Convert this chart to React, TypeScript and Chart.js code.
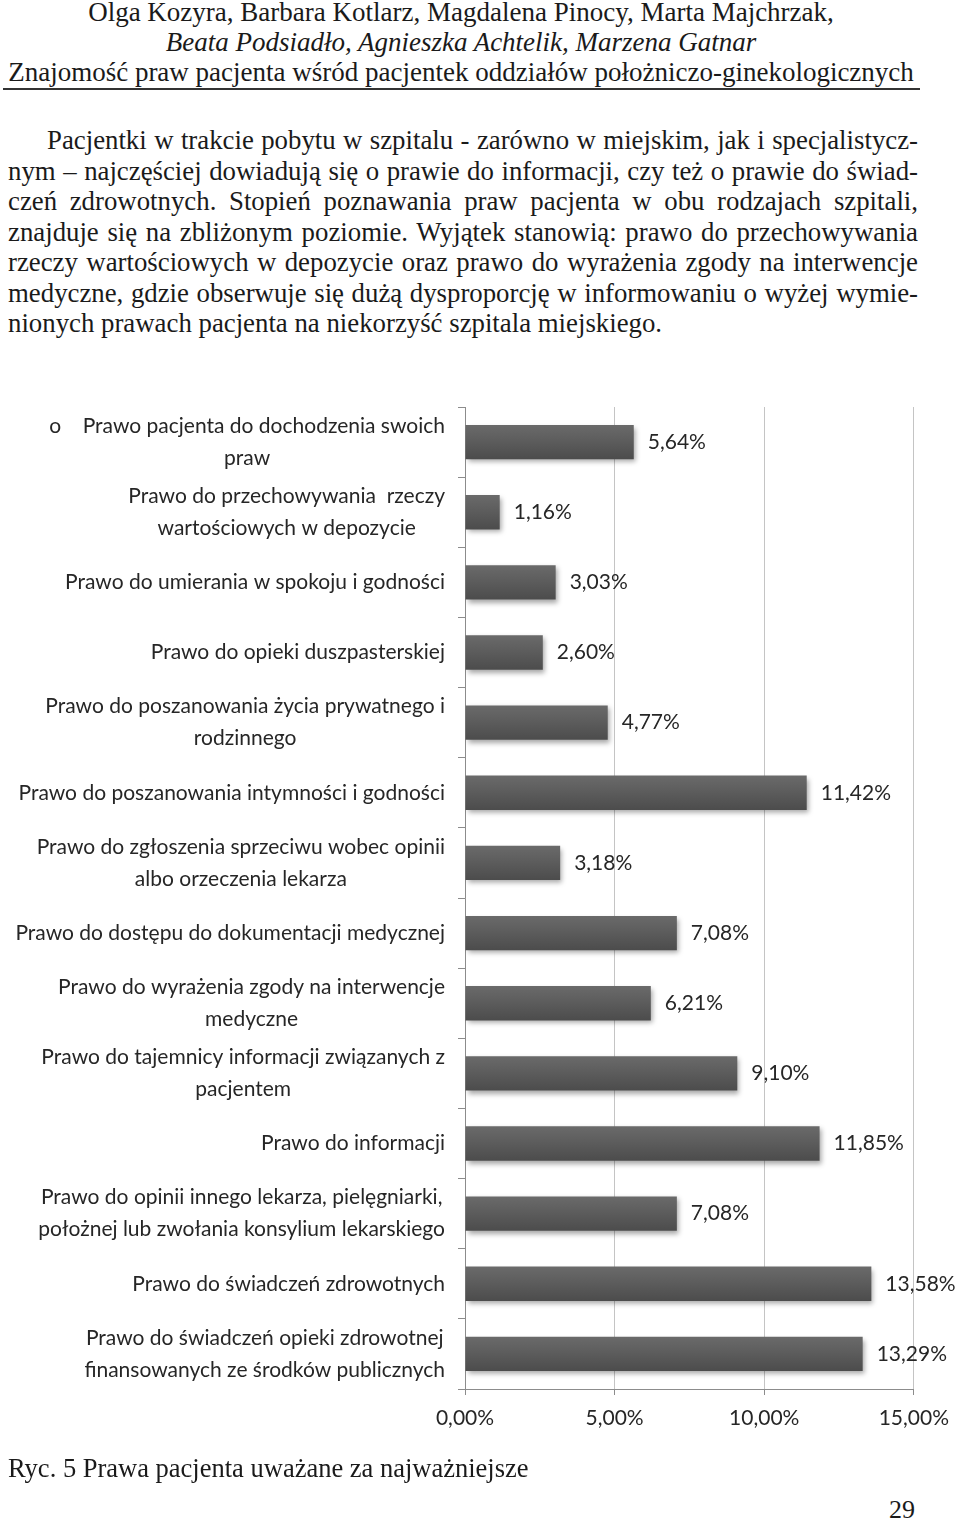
import {useEffect, useRef} from 'react'
import {Chart, registerables} from 'chart.js'
import type {Plugin} from 'chart.js'

Chart.register(...registerables)

const categoryLabels: string[][] = [
    ['o    Prawo pacjenta do dochodzenia swoich', 'praw'],
    ['Prawo do przechowywania  rzeczy', 'wartościowych w depozycie'],
    ['Prawo do umierania w spokoju i godności'],
    ['Prawo do opieki duszpasterskiej'],
    ['Prawo do poszanowania życia prywatnego i', 'rodzinnego'],
    ['Prawo do poszanowania intymności i godności'],
    ['Prawo do zgłoszenia sprzeciwu wobec opinii', 'albo orzeczenia lekarza'],
    ['Prawo do dostępu do dokumentacji medycznej'],
    ['Prawo do wyrażenia zgody na interwencje', 'medyczne'],
    ['Prawo do tajemnicy informacji związanych z', 'pacjentem'],
    ['Prawo do informacji'],
    ['Prawo do opinii innego lekarza, pielęgniarki,', 'położnej lub zwołania konsylium lekarskiego'],
    ['Prawo do świadczeń zdrowotnych'],
    ['Prawo do świadczeń opieki zdrowotnej', 'finansowanych ze środków publicznych'],
]

const percentValues = [5.64, 1.16, 3.03, 2.6, 4.77, 11.42, 3.18, 7.08, 6.21, 9.1, 11.85, 7.08, 13.58, 13.29]

const xTickValues = [0, 5, 10, 15]

const headerLines = [
    'Olga Kozyra, Barbara Kotlarz, Magdalena Pinocy, Marta Majchrzak,',
    'Beata Podsiadło, Agnieszka Achtelik, Marzena Gatnar',
    'Znajomość praw pacjenta wśród pacjentek oddziałów położniczo-ginekologicznych',
]

const paragraphLines = [
    'Pacjentki w trakcie pobytu w szpitalu - zarówno w miejskim, jak i specjalistycz-',
    'nym – najczęściej dowiadują się o prawie do informacji, czy też o prawie do świad-',
    'czeń zdrowotnych. Stopień poznawania praw pacjenta w obu rodzajach szpitali,',
    'znajduje się na zbliżonym poziomie. Wyjątek stanowią: prawo do przechowywania',
    'rzeczy wartościowych w depozycie oraz prawo do wyrażenia zgody na interwencje',
    'medyczne, gdzie obserwuje się dużą dysproporcję w informowaniu o wyżej wymie-',
    'nionych prawach pacjenta na niekorzyść szpitala miejskiego.',
]

const caption = 'Ryc. 5 Prawa pacjenta uważane za najważniejsze'
const pageNumber = '29'

const sansFamily = 'Lato, "Open Sans", sans-serif'
const labelFont = `21px ${sansFamily}`
const textColor = '#262626'

const formatPercent = (v: number) => `${v.toFixed(2).replace('.', ',')}%`

// Excel-style labels: block right-aligned to the axis, lines centred within the block
const categoryLabelPlugin: Plugin<'bar'> = {
    id: 'categoryLabels',
    afterDraw(chart) {
        const {ctx, chartArea} = chart
        const yScale = chart.scales.y
        ctx.save()
        ctx.font = labelFont
        ctx.fillStyle = textColor
        ctx.textAlign = 'center'
        ctx.textBaseline = 'middle'
        const right = chartArea.left - 20
        categoryLabels.forEach((lines, i) => {
            const y = yScale.getPixelForValue(i)
            const blockWidth = Math.max(...lines.map((l) => ctx.measureText(l).width))
            const cx = right - blockWidth / 2
            lines.forEach((line, j) => {
                ctx.fillText(line, cx, y + (j - (lines.length - 1) / 2) * 32)
            })
        })
        ctx.restore()
    },
}

const valueLabelPlugin: Plugin<'bar'> = {
    id: 'valueLabels',
    afterDatasetsDraw(chart) {
        const {ctx} = chart
        const meta = chart.getDatasetMeta(0)
        ctx.save()
        ctx.shadowColor = 'transparent'
        ctx.font = labelFont
        ctx.fillStyle = textColor
        ctx.textAlign = 'left'
        ctx.textBaseline = 'middle'
        meta.data.forEach((bar, i) => {
            const {x, y} = bar.getProps(['x', 'y'], true)
            ctx.fillText(formatPercent(percentValues[i]), x + 14, y)
        })
        ctx.restore()
    },
}

// shadow under the bars, like the Excel original
const barShadowPlugin: Plugin<'bar'> = {
    id: 'barShadow',
    beforeDatasetsDraw(chart) {
        const {ctx} = chart
        ctx.save()
        ctx.shadowColor = 'rgba(0,0,0,0.35)'
        ctx.shadowBlur = 5
        ctx.shadowOffsetX = 2
        ctx.shadowOffsetY = 3
    },
    afterDatasetsDraw(chart) {
        chart.ctx.restore()
    },
}

function RightsChart() {
    const canvasRef = useRef<HTMLCanvasElement>(null)
    const chartRef = useRef<Chart<'bar'> | null>(null)

    useEffect(() => {
        if (!canvasRef.current) return
        chartRef.current?.destroy()
        const ctx = canvasRef.current.getContext('2d')
        if (!ctx) return

        chartRef.current = new Chart(ctx, {
            type: 'bar',
            data: {
                labels: categoryLabels.map((l) => l.join(' ')),
                datasets: [
                    {
                        data: percentValues,
                        backgroundColor: (context) => {
                            const chart = context.chart
                            const yScale = chart.scales.y
                            if (!yScale) return '#5a5a5a'
                            const y = yScale.getPixelForValue(context.dataIndex)
                            if (!Number.isFinite(y)) return '#5a5a5a'
                            const g = chart.ctx.createLinearGradient(0, y - 17, 0, y + 17)
                            g.addColorStop(0, '#6a6a6a')
                            g.addColorStop(0.45, '#5d5d5d')
                            g.addColorStop(1, '#4c4c4c')
                            return g
                        },
                        borderWidth: 0,
                        categoryPercentage: 1,
                        barPercentage: 0.49,
                    },
                ],
            },
            options: {
                indexAxis: 'y',
                responsive: true,
                maintainAspectRatio: false,
                animation: false,
                layout: {padding: {top: 12, right: 40, left: 0, bottom: 0}},
                plugins: {
                    legend: {display: false},
                    tooltip: {enabled: false},
                },
                scales: {
                    x: {
                        min: 0,
                        max: 15,
                        afterBuildTicks: (scale) => {
                            scale.ticks = xTickValues.map((value) => ({value}))
                        },
                        afterFit: (scale) => {
                            scale.height = 66
                        },
                        grid: {color: '#c4c4c4', lineWidth: 1, tickLength: 6, tickColor: '#8c8c8c'},
                        border: {display: true, color: '#8c8c8c', width: 1},
                        ticks: {
                            color: textColor,
                            font: {family: sansFamily, size: 21},
                            padding: 11,
                            maxRotation: 0,
                            callback: (value) => formatPercent(Number(value)),
                        },
                    },
                    y: {
                        afterFit: (scale) => {
                            scale.width = 465
                        },
                        grid: {
                            display: true,
                            drawOnChartArea: false,
                            offset: true,
                            tickLength: 7,
                            tickColor: '#8c8c8c',
                        },
                        border: {display: true, color: '#8c8c8c', width: 1},
                        ticks: {display: false},
                    },
                },
            },
            plugins: [barShadowPlugin, valueLabelPlugin, categoryLabelPlugin],
        })

        return () => {
            chartRef.current?.destroy()
            chartRef.current = null
        }
    }, [])

    return (
        <div style={{position: 'absolute', left: 0, top: 395, width: 960, height: 1060}}>
            <canvas ref={canvasRef}/>
        </div>
    )
}

const serif = '"Liberation Serif", serif'

export default function App() {
    return (
        <div
            style={{
                position: 'absolute',
                left: 0,
                top: 0,
                width: 960,
                height: 1525,
                background: '#ffffff',
                fontFamily: serif,
                color: '#1a1a1a',
                overflow: 'hidden',
            }}
        >
            {headerLines.map((line, i) => (
                <div
                    key={line}
                    style={{
                        position: 'absolute',
                        left: 0,
                        width: 922,
                        top: -3 + i * 30,
                        height: 30,
                        lineHeight: '30px',
                        fontSize: 27,
                        fontFamily: serif,
                        textAlign: 'center',
                        fontStyle: i === 1 ? 'italic' : 'normal',
                        whiteSpace: 'nowrap',
                    }}
                >
                    {line}
                </div>
            ))}
            <div style={{position: 'absolute', left: 3, top: 88, width: 917, height: 2, background: '#333'}}/>
            {paragraphLines.map((line, i) => (
                <div
                    key={line}
                    style={{
                        position: 'absolute',
                        left: i === 0 ? 47 : 8,
                        width: i === 0 ? 871 : 910,
                        top: 125 + i * 30.5,
                        height: 30.5,
                        lineHeight: '30.5px',
                        fontSize: 26.8,
                        fontFamily: serif,
                        textAlign: 'justify',
                        textAlignLast: i === paragraphLines.length - 1 ? 'left' : 'justify',
                        whiteSpace: 'nowrap',
                    }}
                >
                    {line}
                </div>
            ))}
            <RightsChart/>
            <div
                style={{
                    position: 'absolute',
                    left: 8,
                    top: 1453,
                    lineHeight: '30px',
                    fontSize: 26.5,
                    fontFamily: serif,
                    whiteSpace: 'nowrap',
                }}
            >
                {caption}
            </div>
            <div
                style={{
                    position: 'absolute',
                    left: 889,
                    top: 1495,
                    lineHeight: '30px',
                    fontSize: 26,
                    fontFamily: serif,
                }}
            >
                {pageNumber}
            </div>
        </div>
    )
}
